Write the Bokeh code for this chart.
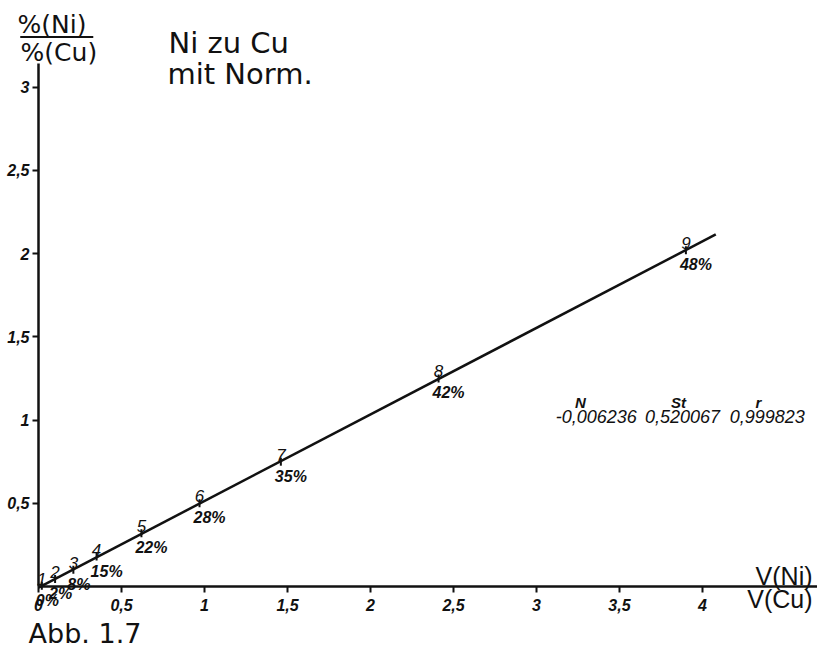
import math

from bokeh.core.properties import value
from bokeh.embed import file_html
from bokeh.models import ColumnDataSource, FixedTicker, Label, Range1d
from bokeh.plotting import figure
from bokeh.resources import INLINE

# --- data -------------------------------------------------------------------
sample_ids = ["1", "2", "3", "4", "5", "6", "7", "8", "9"]
volume_ratio = [0.02, 0.10, 0.21, 0.35, 0.62, 0.97, 1.46, 2.41, 3.90]      # V(Ni)/V(Cu)
percent_ratio = [0.005, 0.045, 0.10, 0.18, 0.32, 0.50, 0.75, 1.25, 2.02]   # %(Ni)/%(Cu)
ni_content = ["0%", "2%", "8%", "15%", "22%", "28%", "35%", "42%", "48%"]

# regression line  %(Ni)/%(Cu) = N + St * V(Ni)/V(Cu)
fit_n = -0.006236
fit_st = 0.520067
fit_r = 0.999823
fit_x_end = 4.08

x_ticks = [0, 0.5, 1, 1.5, 2, 2.5, 3, 3.5, 4]
x_tick_labels = ["0", "0,5", "1", "1,5", "2", "2,5", "3", "3,5", "4"]
y_ticks = [0.5, 1, 1.5, 2, 2.5, 3]
y_tick_labels = ["0,5", "1", "1,5", "2", "2,5", "3"]

INK = "#111111"
SANS = "DejaVu Sans"
HAND = "Liberation Sans"


def de(v):
    return f"{v:.6f}".replace(".", ",")


def caption(x, y, text, font=SANS, size="25px", style="normal", align="left"):
    return Label(x=x, y=y, text=text, text_font=font, text_font_size=size,
                 text_font_style=style, text_color=INK, text_align=align,
                 text_baseline="middle")


# --- figure -----------------------------------------------------------------
p = figure(
    width=817, height=649,
    x_range=Range1d(-0.2289, 4.6928), y_range=Range1d(-0.3786, 3.5216),
    output_backend="svg", toolbar_location=None, title=None,
    min_border=0,
)
p.outline_line_color = None
p.grid.visible = False
p.background_fill_color = "white"
p.border_fill_color = "white"

for ax in (p.xaxis, p.yaxis):
    ax.fixed_location = 0
    ax.axis_line_color = INK
    ax.axis_line_width = 2.5
    ax.major_tick_line_color = INK
    ax.major_tick_line_width = 2
    ax.major_tick_in = 0
    ax.major_tick_out = 6
    ax.minor_tick_line_color = None
    ax.major_label_text_font = HAND
    ax.major_label_text_font_style = "bold italic"
    ax.major_label_text_font_size = "16px"
    ax.major_label_text_color = INK

p.xaxis.bounds = (0, 4.6928)
p.xaxis.ticker = FixedTicker(ticks=x_ticks)
p.xaxis.major_label_overrides = dict(zip(x_ticks, x_tick_labels))
p.xaxis.major_label_standoff = 6

p.yaxis.bounds = (0, 3.14)
p.yaxis.ticker = FixedTicker(ticks=y_ticks)
p.yaxis.major_label_overrides = dict(zip(y_ticks, y_tick_labels))
p.yaxis.major_label_standoff = 3

# regression line
line_x = [0.0, fit_x_end]
line_y = [fit_n + fit_st * x for x in line_x]
p.line(line_x, line_y, line_color=INK, line_width=2.5)

# samples
src = ColumnDataSource(dict(x=volume_ratio, y=percent_ratio, sid=sample_ids, pct=ni_content))
p.scatter("x", "y", source=src, marker="dash", angle=math.pi / 2, size=8,
          line_color=INK, line_width=2)
p.text("x", "y", text="sid", source=src, text_align="center", text_baseline="bottom",
       y_offset=-1, text_font=value(HAND), text_font_style="italic",
       text_font_size="17px", text_color=INK)
p.text("x", "y", text="pct", source=src, text_align="left", text_baseline="top",
       x_offset=-6, y_offset=6, text_font=value(HAND), text_font_style="bold italic",
       text_font_size="16px", text_color=INK)

# axis captions written as fractions
p.add_layout(caption(-0.1265, 3.377, "%(Ni)"))
p.add_layout(caption(-0.108, 3.209, "%(Cu)"))
p.line([-0.11, 0.33], [3.302, 3.302], line_color=INK, line_width=2)

p.add_layout(caption(4.663, 0.066, "V(Ni)", font=HAND, align="right"))
p.add_layout(caption(4.663, -0.078, "V(Cu)", font=HAND, align="right"))

# heading
p.add_layout(caption(0.783, 3.266, "Ni zu Cu", size="29px"))
p.add_layout(caption(0.777, 3.080, "mit Norm.", size="29px"))

# regression coefficients
for hx, head, vx, val in [(3.265, "N", 3.36, de(fit_n)),
                          (3.855, "St", 3.88, de(fit_st)),
                          (4.337, "r", 4.39, de(fit_r))]:
    p.add_layout(caption(hx, 1.106, head, font=HAND, size="15px", style="bold italic",
                         align="center"))
    p.add_layout(caption(vx, 1.019, val, font=HAND, size="18px", style="italic",
                         align="center"))

# figure number
p.add_layout(caption(-0.060, -0.282, "Abb. 1.7", size="27px"))

open("out.html", "w").write(file_html(p, INLINE))
